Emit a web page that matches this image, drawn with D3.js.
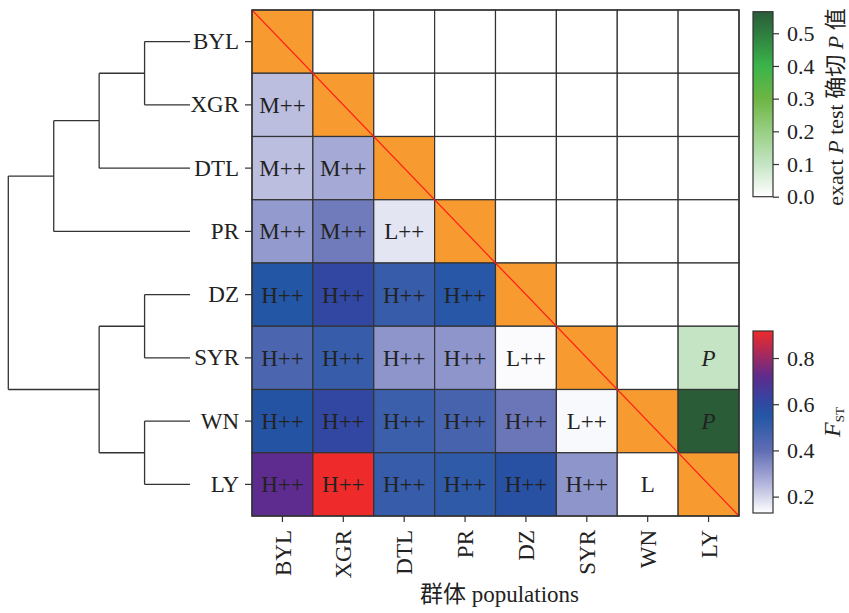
<!DOCTYPE html>
<html>
<head>
<meta charset="utf-8">
<script src="https://cdn.jsdelivr.net/npm/d3@7/dist/d3.min.js"></script>
<style>
  html, body { margin: 0; padding: 0; background: #fff; }
  svg { display: block; }
  text { font-family: "Liberation Serif", "Times New Roman", "Noto Sans CJK SC", serif; fill: #222; }
</style>
</head>
<body>
<svg id="chart" width="849" height="613"></svg>
<script>
// ---------------- DATA ----------------
const populations = ["BYL", "XGR", "DTL", "PR", "DZ", "SYR", "WN", "LY"];

// Lower triangle: pairwise FST (row population vs column population)
const fstRows = [
  [],
  [0.24],
  [0.24, 0.28],
  [0.31, 0.37, 0.173],
  [0.55, 0.61, 0.50, 0.54],
  [0.45, 0.50, 0.32, 0.32, 0.135],
  [0.56, 0.61, 0.49, 0.46, 0.38, 0.14],
  [0.72, 0.917, 0.50, 0.52, 0.57, 0.32, 0.129]
];
const fstLabelRows = [
  [],
  ["M++"],
  ["M++", "M++"],
  ["M++", "M++", "L++"],
  ["H++", "H++", "H++", "H++"],
  ["H++", "H++", "H++", "H++", "L++"],
  ["H++", "H++", "H++", "H++", "H++", "L++"],
  ["H++", "H++", "H++", "H++", "H++", "H++", "L"]
];

// Upper triangle: exact P test values (row, col)
const pCells = [
  { row: "SYR", col: "LY", p: 0.10, label: "P" },
  { row: "WN",  col: "LY", p: 0.566, label: "P" }
];

const pTicks = [0.0, 0.1, 0.2, 0.3, 0.4, 0.5];
const fstTicks = [0.2, 0.4, 0.6, 0.8];

// Dendrogram merges, heights in relative units
const dendroMerges = [
  { id: "n1", left: "BYL", right: "XGR", height: 1 },
  { id: "n2", left: "n1",  right: "DTL", height: 2 },
  { id: "n3", left: "n2",  right: "PR",  height: 3 },
  { id: "n4", left: "DZ",  right: "SYR", height: 1 },
  { id: "n5", left: "WN",  right: "LY",  height: 1 },
  { id: "n6", left: "n4",  right: "n5",  height: 2 },
  { id: "n7", left: "n3",  right: "n6",  height: 4 }
];

// ---------------- SCALES ----------------
const svg = d3.select("#chart");
const grid = { left: 252, right: 739, top: 10, bottom: 516 };

const x = d3.scaleBand().domain(populations).range([grid.left, grid.right]).paddingInner(0);
const y = d3.scaleBand().domain(populations).range([grid.top, grid.bottom]).paddingInner(0);

const allFst = fstRows.flat();
const fstMin = d3.min(allFst), fstMax = d3.max(allFst);
const fstColor = d3.scaleLinear()
  .domain([fstMin, 0.25, 0.40, 0.55, 0.62, 0.72, fstMax])
  .range(["#ffffff", "#b6b8dd", "#5f6cb4", "#2356a5", "#3444a0", "#5e2b8e", "#ef2a2a"])
  .interpolate(d3.interpolateRgb)
  .clamp(true);

const pMax = d3.max(pCells, d => d.p);
const pColor = d3.scaleLinear()
  .domain([0, 0.1, 0.2, 0.3, 0.4, 0.5, pMax])
  .range(["#ffffff", "#c4e4c3", "#98cf83", "#6db543", "#3bb44a", "#2f7d3f", "#2a5c38"])
  .clamp(true);

const diagColor = "#f79b31";
const gridStroke = "#333";

// ---------------- HEATMAP ----------------
const cells = [];
populations.forEach((r, i) => {
  populations.forEach((c, j) => {
    if (i === j) cells.push({ row: r, col: c, fill: diagColor, label: "" });
    else if (i > j) cells.push({ row: r, col: c, fill: fstColor(fstRows[i][j]), label: fstLabelRows[i][j] });
    else {
      const pc = pCells.find(d => d.row === r && d.col === c);
      cells.push({ row: r, col: c, fill: pc ? pColor(pc.p) : "#ffffff", label: pc ? pc.label : "", italic: true });
    }
  });
});

const gCells = svg.append("g");
gCells.selectAll("rect").data(cells).join("rect")
  .attr("x", d => x(d.col)).attr("y", d => y(d.row))
  .attr("width", x.bandwidth()).attr("height", y.bandwidth())
  .attr("fill", d => d.fill)
  .attr("stroke", gridStroke).attr("stroke-width", 1.2);

gCells.selectAll("text").data(cells.filter(d => d.label)).join("text")
  .attr("x", d => x(d.col) + x.bandwidth() / 2)
  .attr("y", d => y(d.row) + y.bandwidth() / 2)
  .attr("dy", "0.35em")
  .attr("text-anchor", "middle")
  .attr("font-size", 23)
  .attr("font-style", d => d.italic ? "italic" : "normal")
  .text(d => d.label);

// diagonal red line
svg.append("line")
  .attr("x1", x.range()[0]).attr("y1", y.range()[0])
  .attr("x2", x.range()[1]).attr("y2", y.range()[1])
  .attr("stroke", "#ff1a1a").attr("stroke-width", 1.2);

// outer border
svg.append("rect")
  .attr("x", grid.left).attr("y", grid.top)
  .attr("width", grid.right - grid.left).attr("height", grid.bottom - grid.top)
  .attr("fill", "none").attr("stroke", gridStroke).attr("stroke-width", 1.4);

// ---------------- AXES ----------------
const yAxis = svg.append("g").attr("transform", `translate(${grid.left},0)`)
  .call(d3.axisLeft(y).tickSize(7).tickPadding(6));
yAxis.select(".domain").remove();
yAxis.selectAll("line").attr("stroke", gridStroke).attr("stroke-width", 1.2);
yAxis.selectAll("text").attr("font-size", 23).attr("fill", "#222")
  .attr("font-family", '"Liberation Serif", serif');

const xAxis = svg.append("g").attr("transform", `translate(0,${grid.bottom})`)
  .call(d3.axisBottom(x).tickSize(6).tickPadding(8));
xAxis.select(".domain").remove();
xAxis.selectAll("line").attr("stroke", gridStroke).attr("stroke-width", 1.2);
xAxis.selectAll("text")
  .attr("font-size", 23).attr("fill", "#222")
  .attr("font-family", '"Liberation Serif", serif')
  .attr("transform", "rotate(-90)")
  .attr("text-anchor", "end")
  .attr("x", -14).attr("y", 0).attr("dy", "0.35em");

svg.append("text")
  .attr("x", (grid.left + grid.right) / 2 + 4).attr("y", 602)
  .attr("text-anchor", "middle").attr("font-size", 23)
  .text("群体 populations");

// ---------------- DENDROGRAM ----------------
const hMax = d3.max(dendroMerges, d => d.height);
const dx = d3.scaleLinear().domain([0, hMax]).range([190, 8.3]);
const nodePos = {};
populations.forEach(p => { nodePos[p] = { y: y(p) + y.bandwidth() / 2, h: 0 }; });
const dendroSegs = [];
dendroMerges.forEach(m => {
  const a = nodePos[m.left], b = nodePos[m.right];
  const xm = dx(m.height);
  dendroSegs.push([xm, a.y, xm, b.y]);
  dendroSegs.push([xm, a.y, dx(a.h), a.y]);
  dendroSegs.push([xm, b.y, dx(b.h), b.y]);
  nodePos[m.id] = { y: (a.y + b.y) / 2, h: m.height };
});
svg.append("g").selectAll("line").data(dendroSegs).join("line")
  .attr("x1", d => d[0]).attr("y1", d => d[1])
  .attr("x2", d => d[2]).attr("y2", d => d[3])
  .attr("stroke", "#333").attr("stroke-width", 1.3);

// ---------------- COLORBARS ----------------
const defs = svg.append("defs");
function colorbar(id, scale, domain, y0, y1, ticks, fmt) {
  const grad = defs.append("linearGradient").attr("id", id)
    .attr("x1", 0).attr("y1", 1).attr("x2", 0).attr("y2", 0);
  d3.range(0, 1.0001, 0.02).forEach(t => {
    grad.append("stop").attr("offset", t)
      .attr("stop-color", scale(domain[0] + t * (domain[1] - domain[0])));
  });
  const cy = d3.scaleLinear().domain(domain).range([y1, y0]);
  const bx = 753, bw = 20;
  svg.append("rect").attr("x", bx).attr("y", y0).attr("width", bw).attr("height", y1 - y0)
    .attr("fill", `url(#${id})`).attr("stroke", "#333").attr("stroke-width", 1.2);
  const ax = svg.append("g").attr("transform", `translate(${bx + bw},0)`)
    .call(d3.axisRight(cy).tickValues(ticks).tickFormat(fmt).tickSize(6).tickPadding(8));
  ax.select(".domain").remove();
  ax.selectAll("line").attr("stroke", "#333").attr("stroke-width", 1.2);
  ax.selectAll("text").attr("font-size", 22).attr("fill", "#222")
    .attr("font-family", '"Liberation Serif", serif');
  return cy;
}
colorbar("gradP", pColor, [0, pMax], 11.7, 196.7, pTicks, d3.format(".1f"));
colorbar("gradF", fstColor, [fstMin, fstMax], 331, 513, fstTicks, d3.format(".1f"));

// colorbar titles
const tP = svg.append("text")
  .attr("transform", "translate(843,107) rotate(-90)")
  .attr("text-anchor", "middle").attr("font-size", 22);
tP.append("tspan").text("exact ");
tP.append("tspan").attr("font-style", "italic").text("P");
tP.append("tspan").text(" test 确切 ");
tP.append("tspan").attr("font-style", "italic").text("P");
tP.append("tspan").text(" 值");

const tF = svg.append("text")
  .attr("transform", "translate(840,422) rotate(-90)")
  .attr("text-anchor", "middle").attr("font-size", 24);
tF.append("tspan").attr("font-style", "italic").text("F");
tF.append("tspan").attr("font-size", 13).attr("dy", 4).text("ST");
</script>
</body>
</html>
